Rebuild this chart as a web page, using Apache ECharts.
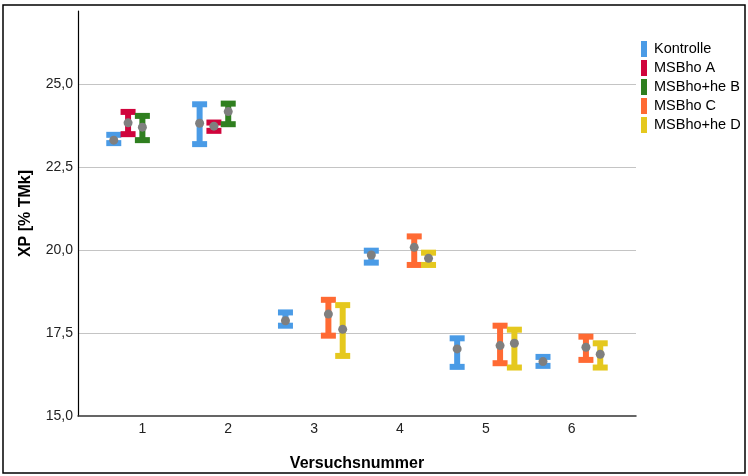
<!DOCTYPE html>
<html>
<head>
<meta charset="utf-8">
<script src="https://cdn.jsdelivr.net/npm/echarts@6/dist/echarts.min.js"></script>
<style>html,body{margin:0;padding:0;background:#fff;}#c{width:748px;height:476px;}</style>
</head>
<body>
<div id="c"></div>
<script>
const categories = [1, 2, 3, 4, 5, 6];
const xTickLabels = ['1', '2', '3', '4', '5', '6'];
const yTicks = [15, 17.5, 20, 22.5, 25];
const seriesNames = ['Kontrolle', 'MSBho A', 'MSBho+he B', 'MSBho C', 'MSBho+he D'];

const kontrolleMean = [23.31, 23.82, 17.87, 19.85, 17.02, 16.64];
const kontrolleLow  = [23.22, 23.19, 17.72, 19.62, 16.48, 16.51];
const kontrolleHigh = [23.47, 24.39, 18.12, 19.98, 17.34, 16.78];

const msbhoAMean = [23.83, 23.73, null, null, null, null];
const msbhoALow  = [23.49, 23.59, null, null, null, null];
const msbhoAHigh = [24.16, 23.84, null, null, null, null];

const msbhoHeBMean = [23.70, 24.17, null, null, null, null];
const msbhoHeBLow  = [23.31, 23.79, null, null, null, null];
const msbhoHeBHigh = [24.04, 24.41, null, null, null, null];

const msbhoCMean = [null, null, 18.07, 20.08, 17.12, 17.07];
const msbhoCLow  = [null, null, 17.42, 19.55, 16.59, 16.69];
const msbhoCHigh = [null, null, 18.50, 20.41, 17.72, 17.39];

const msbhoHeDMean = [null, null, 17.61, 19.75, 17.19, 16.86];
const msbhoHeDLow  = [null, null, 16.81, 19.55, 16.46, 16.46];
const msbhoHeDHigh = [null, null, 18.34, 19.92, 17.60, 17.19];

const groups = [
  {mean: kontrolleMean, low: kontrolleLow, high: kontrolleHigh},
  {mean: msbhoAMean, low: msbhoALow, high: msbhoAHigh},
  {mean: msbhoHeBMean, low: msbhoHeBLow, high: msbhoHeBHigh},
  {mean: msbhoCMean, low: msbhoCLow, high: msbhoCHigh},
  {mean: msbhoHeDMean, low: msbhoHeDLow, high: msbhoHeDHigh}
];
const colors = ['#4a9be6', '#d0043c', '#2f7f1f', '#ff6a33', '#e5c81e'];
const offsets = [-1/3, -1/6, 0, 1/6, 1/3];

const FONT = '"Liberation Sans", Arial, sans-serif';

function renderErr(params, api) {
  const x = api.value(0), lo = api.value(1), hi = api.value(2);
  const pLo = api.coord([x, lo]);
  const pHi = api.coord([x, hi]);
  const color = api.visual('color');
  return {
    type: 'group',
    children: [
      {type: 'rect', shape: {x: pHi[0] - 3, y: pHi[1], width: 6, height: pLo[1] - pHi[1]}, style: {fill: color}},
      {type: 'rect', shape: {x: pHi[0] - 7.5, y: pHi[1] - 3, width: 15, height: 6}, style: {fill: color}},
      {type: 'rect', shape: {x: pLo[0] - 7.5, y: pLo[1] - 3, width: 15, height: 6}, style: {fill: color}}
    ]
  };
}

const series = [];
groups.forEach((g, s) => {
  const errData = [], meanData = [];
  categories.forEach((c, i) => {
    if (g.mean[i] == null) return;
    errData.push([c + offsets[s], g.low[i], g.high[i]]);
    meanData.push([c + offsets[s], g.mean[i]]);
  });
  series.push({
    type: 'custom', name: seriesNames[s], renderItem: renderErr,
    itemStyle: {color: colors[s]}, encode: {x: 0, y: [1, 2]}, data: errData, z: 2
  });
  series.push({
    type: 'scatter', name: 'mean_' + s, data: meanData, symbol: 'circle', symbolSize: 9,
    itemStyle: {color: '#7f7f7f', opacity: 1}, z: 5, silent: true
  });
});

const chart = echarts.init(document.getElementById('c'), null, {renderer: 'canvas'});
chart.setOption({
  animation: false,
  backgroundColor: '#fff',
  grid: {left: 78, right: 112, top: 11, bottom: 60, containLabel: false, outerBoundsMode: 'none'},
  legend: {
    data: seriesNames.map(n => ({name: n, icon: 'rect'})),
    orient: 'vertical', left: 641, top: 41, padding: 0,
    itemWidth: 6, itemHeight: 16, itemGap: 3,
    textStyle: {fontFamily: FONT, fontSize: 14.5, color: '#000', padding: [0, 0, 0, 2]}
  },
  xAxis: {
    type: 'value', min: 0.25, max: 6.75,
    name: 'Versuchsnummer', nameLocation: 'middle', nameGap: 40,
    nameTextStyle: {fontFamily: FONT, fontSize: 16, fontWeight: 'bold', color: '#000'},
    axisLine: {show: true, lineStyle: {color: '#333', width: 1.5}},
    axisTick: {show: false},
    splitLine: {show: false},
    axisLabel: {
      customValues: categories, margin: 6,
      formatter: v => xTickLabels[categories.indexOf(Math.round(v))] || '',
      fontFamily: FONT, fontSize: 14, color: '#222'
    }
  },
  yAxis: {
    type: 'value', min: 15, max: 27.2, interval: 2.5,
    name: 'XP [% TMk]', nameLocation: 'middle', nameGap: 44, nameRotate: 90,
    nameTextStyle: {fontFamily: FONT, fontSize: 16, fontWeight: 'bold', color: '#000'},
    axisLine: {show: true, onZero: false, lineStyle: {color: '#000', width: 1.2}},
    axisTick: {show: false},
    splitLine: {show: true, showMinLine: false, showMaxLine: false, lineStyle: {color: '#c4c4c4', width: 1}},
    axisLabel: {
      margin: 5, fontFamily: FONT, fontSize: 14, color: '#222',
      formatter: v => yTicks.indexOf(v) >= 0 ? v.toFixed(1).replace('.', ',') : ''
    }
  },
  graphic: [
    {type: 'rect', shape: {x: 3, y: 5, width: 742, height: 468}, style: {fill: null, stroke: '#000', lineWidth: 1.5}, silent: true}
  ],
  series: series
});
</script>
</body>
</html>
